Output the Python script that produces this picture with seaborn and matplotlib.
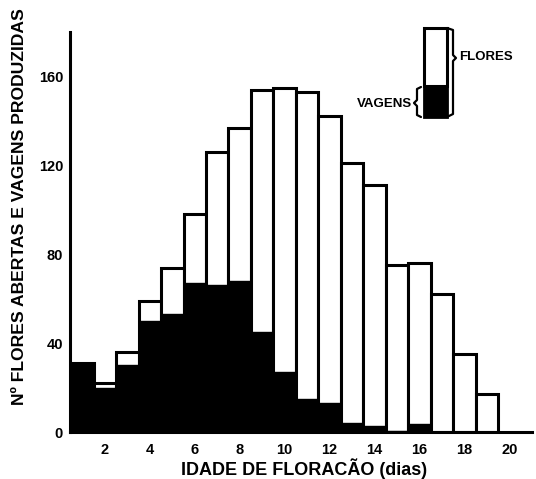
# histograma de floracao: flores abertas e vagens produzidas por idade

import numpy as np
import pandas as pd
import seaborn as sns
import matplotlib.pyplot as plt
from matplotlib.lines import Line2D
from matplotlib.patches import Rectangle

dias = [1, 2, 3, 4, 5, 6, 7, 8, 9, 10, 11, 12, 13, 14, 15, 16, 17, 18, 19]
flores = [31, 22, 36, 59, 74, 98, 126, 137, 154, 155, 153, 142, 121, 111, 75, 76, 62, 35, 17]
vagens = [30, 20, 30, 50, 53, 67, 66, 68, 45, 27, 15, 13, 4, 2.5, 0.5, 3.5, 0, 0, 0]
xticks = [2, 4, 6, 8, 10, 12, 14, 16, 18, 20]
yticks = [0, 40, 80, 120, 160]

df = pd.DataFrame({"dia": dias, "flores": flores, "vagens": vagens})

sns.set_style("white")
plt.rcParams["font.family"] = ["Liberation Sans", "DejaVu Sans"]
plt.rcParams["font.weight"] = "bold"
plt.rcParams["text.color"] = "black"
plt.rcParams["xtick.color"] = "black"
plt.rcParams["ytick.color"] = "black"
plt.rcParams["axes.labelcolor"] = "black"

W, H = 536, 479
fig = plt.figure(figsize=(W / 100, H / 100), dpi=100)
ax = fig.add_axes([70 / W, 1 - 432 / H, 462 / W, 400 / H])

sns.barplot(data=df, x="dia", y="flores", native_scale=True, width=1.0,
            color="white", edgecolor="black", linewidth=2.2, saturation=1, ax=ax)
sns.barplot(data=df, x="dia", y="vagens", native_scale=True, width=1.0,
            color="black", edgecolor="black", linewidth=1.0, saturation=1, ax=ax)

ax.set_xlim(0.45, 21.0)
ax.set_ylim(0, 180)
ax.set_xticks(xticks)
ax.set_yticks(yticks)
ax.tick_params(axis="x", length=0, labelsize=10.5, pad=8)
ax.tick_params(axis="y", direction="in", length=7, width=2, labelsize=10.5, pad=5)
for lab in ax.get_xticklabels() + ax.get_yticklabels():
    lab.set_fontweight("bold")

for s in ["top", "right"]:
    ax.spines[s].set_visible(False)
ax.spines["left"].set_linewidth(2.2)
ax.spines["bottom"].set_linewidth(2.2)
ax.spines["left"].set_color("black")
ax.spines["bottom"].set_color("black")

ax.set_xlabel("IDADE DE FLORACÃO (dias)", fontsize=13, fontweight="bold")
ax.xaxis.set_label_coords(0.506, -0.065)
ax.set_ylabel("Nº FLORES ABERTAS E VAGENS PRODUZIDAS", fontsize=12.6,
              fontweight="bold")
ax.yaxis.set_label_coords(-0.093, 0.5625)


# legenda desenhada a mao (coordenadas em pixels da figura)
def px(x, y):
    return x / W, 1 - y / H

x0, y0 = px(424, 117)
x1, y1 = px(447, 28)
xm, ym = px(424, 86)
fig.add_artist(Rectangle((x0, y0), x1 - x0, ym - y0, transform=fig.transFigure,
                         facecolor="black", edgecolor="black", lw=2))
fig.add_artist(Rectangle((x0, ym), x1 - x0, y1 - ym, transform=fig.transFigure,
                         facecolor="white", edgecolor="black", lw=2.2))

# chave direita (flores)
bx = [447, 453, 453, 456, 453, 453, 447]
by = [28, 30, 55, 58, 61, 114, 117]
fig.add_artist(Line2D([px(a, b)[0] for a, b in zip(bx, by)],
                      [px(a, b)[1] for a, b in zip(bx, by)],
                      transform=fig.transFigure, color="black", lw=1.6))
# chave esquerda (vagens)
cx = [421, 417, 417, 414, 417, 417, 421]
cy = [87, 89, 100, 103, 106, 115, 117]
fig.add_artist(Line2D([px(a, b)[0] for a, b in zip(cx, cy)],
                      [px(a, b)[1] for a, b in zip(cx, cy)],
                      transform=fig.transFigure, color="black", lw=1.6))

fig.text(*px(459, 57), "FLORES", fontsize=9.5, fontweight="bold", va="center", ha="left")
fig.text(*px(412, 104), "VAGENS", fontsize=9.5, fontweight="bold", va="center", ha="right")

fig.savefig("out.png", dpi=100)
